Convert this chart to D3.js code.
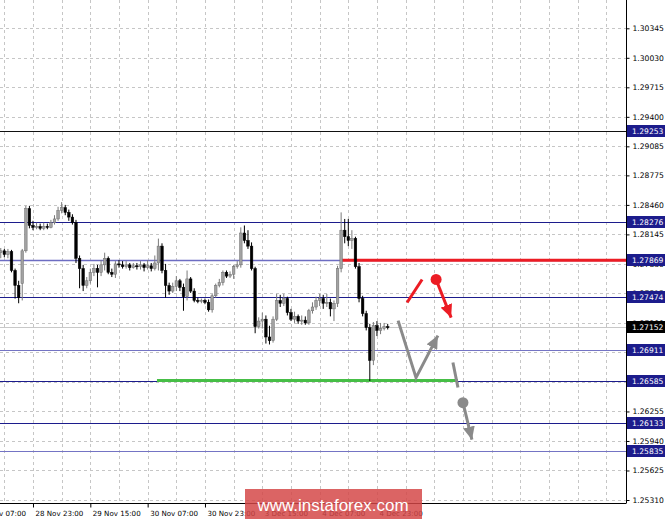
<!DOCTYPE html>
<html>
<head>
<meta charset="utf-8">
<script src="https://cdn.jsdelivr.net/npm/d3@7"></script>
<style>
  body { margin: 0; background: #fff; }
  svg { display: block; }
</style>
</head>
<body>
<div id="chart"></div>
<script>
// H1 candles, bar 0 = 28 Nov 14:00
const opens = [
  1.2795, 1.2797, 1.2793, 1.2796, 1.2776, 1.2760, 1.2762, 1.2797, 1.2842, 1.2824,
  1.2822, 1.2823, 1.2821, 1.2823, 1.2822, 1.2827, 1.2831, 1.2840, 1.2843, 1.2838,
  1.2833, 1.2827, 1.2789, 1.2778, 1.2760, 1.2765, 1.2774, 1.2778, 1.2774, 1.2782,
  1.2789, 1.2774, 1.2772, 1.2783, 1.2782, 1.2780, 1.2782, 1.2779, 1.2781, 1.2780,
  1.2782, 1.2779, 1.2781, 1.2778, 1.2784, 1.2802, 1.2776, 1.2760, 1.2754, 1.2759,
  1.2765, 1.2758, 1.2748, 1.2767, 1.2754, 1.2744, 1.2743, 1.2744, 1.2742, 1.2734,
  1.2749, 1.2760, 1.2763, 1.2774, 1.2770, 1.2772, 1.2780, 1.2782, 1.2816, 1.2808,
  1.2802, 1.2778, 1.2716, 1.2722, 1.2724, 1.2705, 1.2701, 1.2724, 1.2744, 1.2741,
  1.2746, 1.2731, 1.2724, 1.2727, 1.2722, 1.2723, 1.2720, 1.2733, 1.2737, 1.2744,
  1.2746, 1.2741, 1.2742, 1.2735, 1.2741, 1.2778, 1.2819, 1.2812, 1.2808, 1.2810,
  1.2780, 1.2746, 1.2730, 1.2715, 1.2680, 1.2717, 1.2712, 1.2714, 1.2716
];
const highs = [
  1.2800, 1.2799, 1.2799, 1.2798, 1.2778, 1.2765, 1.2799, 1.2845, 1.2845, 1.2829,
  1.2827, 1.2826, 1.2827, 1.2826, 1.2830, 1.2835, 1.2844, 1.2849, 1.2846, 1.2841,
  1.2836, 1.2830, 1.2792, 1.2782, 1.2769, 1.2778, 1.2783, 1.2782, 1.2787, 1.2795,
  1.2791, 1.2778, 1.2786, 1.2787, 1.2786, 1.2786, 1.2784, 1.2784, 1.2784, 1.2786,
  1.2784, 1.2787, 1.2784, 1.2792, 1.2810, 1.2805, 1.2783, 1.2763, 1.2763, 1.2770,
  1.2767, 1.2762, 1.2776, 1.2769, 1.2757, 1.2747, 1.2746, 1.2746, 1.2745, 1.2751,
  1.2762, 1.2767, 1.2776, 1.2776, 1.2775, 1.2782, 1.2786, 1.2822, 1.2824, 1.2819,
  1.2806, 1.2780, 1.2726, 1.2731, 1.2728, 1.2717, 1.2727, 1.2751, 1.2750, 1.2751,
  1.2748, 1.2735, 1.2732, 1.2729, 1.2728, 1.2727, 1.2735, 1.2742, 1.2748, 1.2751,
  1.2750, 1.2751, 1.2746, 1.2744, 1.2781, 1.2838, 1.2831, 1.2831, 1.2819, 1.2812,
  1.2784, 1.2749, 1.2733, 1.2719, 1.2721, 1.2722, 1.2720, 1.2720, 1.2719
];
const lows = [
  1.2789, 1.2790, 1.2789, 1.2774, 1.2746, 1.2741, 1.2744, 1.2795, 1.2821, 1.2819,
  1.2820, 1.2819, 1.2819, 1.2820, 1.2821, 1.2825, 1.2829, 1.2837, 1.2835, 1.2829,
  1.2825, 1.2784, 1.2757, 1.2754, 1.2757, 1.2762, 1.2770, 1.2758, 1.2770, 1.2776,
  1.2772, 1.2769, 1.2768, 1.2779, 1.2778, 1.2778, 1.2776, 1.2778, 1.2777, 1.2777,
  1.2775, 1.2777, 1.2775, 1.2776, 1.2776, 1.2773, 1.2747, 1.2750, 1.2752, 1.2754,
  1.2754, 1.2733, 1.2744, 1.2752, 1.2742, 1.2741, 1.2741, 1.2740, 1.2732, 1.2731,
  1.2747, 1.2758, 1.2760, 1.2768, 1.2768, 1.2767, 1.2778, 1.2779, 1.2805, 1.2799,
  1.2776, 1.2709, 1.2714, 1.2714, 1.2698, 1.2697, 1.2699, 1.2722, 1.2737, 1.2738,
  1.2728, 1.2722, 1.2720, 1.2719, 1.2718, 1.2718, 1.2718, 1.2730, 1.2734, 1.2738,
  1.2735, 1.2737, 1.2727, 1.2722, 1.2737, 1.2774, 1.2805, 1.2802, 1.2799, 1.2778,
  1.2742, 1.2727, 1.2712, 1.2658, 1.2675, 1.2706, 1.2708, 1.2712, 1.2713
];
const closes = [
  1.2797, 1.2793, 1.2796, 1.2776, 1.2760, 1.2747, 1.2797, 1.2842, 1.2824, 1.2822,
  1.2823, 1.2821, 1.2823, 1.2822, 1.2827, 1.2831, 1.2840, 1.2843, 1.2838, 1.2833,
  1.2827, 1.2789, 1.2778, 1.2760, 1.2765, 1.2774, 1.2778, 1.2774, 1.2782, 1.2789,
  1.2774, 1.2772, 1.2783, 1.2782, 1.2780, 1.2782, 1.2779, 1.2781, 1.2780, 1.2782,
  1.2779, 1.2781, 1.2778, 1.2784, 1.2802, 1.2776, 1.2760, 1.2754, 1.2759, 1.2765,
  1.2758, 1.2748, 1.2767, 1.2754, 1.2744, 1.2743, 1.2744, 1.2742, 1.2734, 1.2749,
  1.2760, 1.2763, 1.2774, 1.2770, 1.2772, 1.2780, 1.2782, 1.2816, 1.2808, 1.2802,
  1.2778, 1.2716, 1.2722, 1.2724, 1.2705, 1.2701, 1.2724, 1.2744, 1.2741, 1.2746,
  1.2731, 1.2724, 1.2727, 1.2722, 1.2723, 1.2720, 1.2733, 1.2737, 1.2744, 1.2746,
  1.2741, 1.2742, 1.2735, 1.2741, 1.2778, 1.2819, 1.2812, 1.2808, 1.2810, 1.2780,
  1.2746, 1.2730, 1.2715, 1.2680, 1.2717, 1.2712, 1.2714, 1.2716, 1.27152
];

const priceTicks = [1.30345, 1.30030, 1.29715, 1.29400, 1.29085, 1.28775, 1.28460, 1.28145,
  1.27830, 1.27515, 1.27200, 1.26885, 1.26570, 1.26255, 1.25940, 1.25625, 1.25310];
const timeLabels = ['28 Nov 07:00', '28 Nov 23:00', '29 Nov 15:00', '30 Nov 07:00',
  '30 Nov 23:00', '3 Dec 15:00', '4 Dec 07:00', '4 Dec 23:00'];
const timeLabelBars = [-7, 9, 25, 41, 57, 73, 89, 105];

const levels = [1.29253, 1.28276, 1.27869, 1.27474, 1.26911, 1.26585, 1.26133, 1.25835];
const levelColors = ['#111111', '#1c1c8c', '#6d6dc2', '#1c1c8c', '#7474c4', '#1c1c8c', '#1c1c8c', '#7474c4'];
const currentPrice = 1.27152;

// drawings, as [bar, price]
const resistance = [[94.7, 1.27869], [175, 1.27869]];
const support = [[43.6, 1.26585], [127.6, 1.26585]];
const redStroke = [[113.4, 1.27418], [117.6, 1.27664]];
const redArrow = [[121.5, 1.27664], [125.7, 1.27257]];
const grayPath = [[110.9, 1.27225], [115.9, 1.26616], [122.0, 1.27065]];
const grayStroke = [[126.2, 1.26777], [127.6, 1.26510]];
const grayArrow = [[129.0, 1.26349], [131.5, 1.25954]];

const chartWidth = 665;
const chartHeight = 521;
const plotRight = 626;
const plotBottom = 503;

const svg = d3.select('#chart')
  .append('svg')
  .attr('width', chartWidth)
  .attr('height', chartHeight)
  .style('background', '#fff');

const xScale = d3.scaleLinear()
  .domain([0, 100])
  .range([0.75, 359.05]);

const yScale = d3.scaleLinear()
  .domain([1.25310, 1.30345])
  .range([500, 28.3]);

const clip = svg.append('clipPath').attr('id', 'plot')
  .append('rect').attr('x', 0).attr('y', 0).attr('width', plotRight).attr('height', plotBottom);

const plot = svg.append('g').attr('clip-path', 'url(#plot)');

const plotGrid = () => {
  plot.selectAll('.hgrid')
    .data(priceTicks)
    .enter()
    .append('line')
    .attr('x1', 0).attr('x2', plotRight)
    .attr('y1', d => Math.round(yScale(d)) + 0.5)
    .attr('y2', d => Math.round(yScale(d)) + 0.5)
    .attr('stroke', '#c6c6c6')
    .attr('stroke-dasharray', '3,3');

  plot.selectAll('.vgrid')
    .data(d3.range(-7, 176, 8))
    .enter()
    .append('line')
    .attr('x1', d => Math.round(xScale(d)) + 0.5)
    .attr('x2', d => Math.round(xScale(d)) + 0.5)
    .attr('y1', 0).attr('y2', plotBottom)
    .attr('stroke', '#c6c6c6')
    .attr('stroke-dasharray', '3,3');

  plot.append('line')
    .attr('x1', 0).attr('x2', plotRight)
    .attr('y1', Math.round(yScale(currentPrice)) + 0.5)
    .attr('y2', Math.round(yScale(currentPrice)) + 0.5)
    .attr('stroke', '#c8c8c8');
};

const plotLevels = () => {
  plot.selectAll('.level')
    .data(levels)
    .enter()
    .append('line')
    .attr('x1', 0).attr('x2', plotRight)
    .attr('y1', d => Math.round(yScale(d)) + 0.5)
    .attr('y2', d => Math.round(yScale(d)) + 0.5)
    .attr('stroke', (d, i) => levelColors[i])
    .attr('stroke-width', (d, i) => i === 2 ? 1.6 : 1.1);

  const line = d3.line().x(d => xScale(d[0])).y(d => yScale(d[1]));
  plot.append('path').attr('d', line(support))
    .attr('stroke', '#46be46').attr('stroke-width', 3).attr('fill', 'none');
  plot.append('path').attr('d', line(resistance))
    .attr('stroke', '#ec1c24').attr('stroke-width', 3).attr('fill', 'none');
};

const plotCandles = () => {
  const bars = closes.map((c, i) => ({ i, o: opens[i], h: highs[i], l: lows[i], c }));
  const g = plot.selectAll('.bar')
    .data(bars)
    .enter()
    .append('g');

  g.append('line')
    .attr('x1', d => xScale(d.i)).attr('x2', d => xScale(d.i))
    .attr('y1', d => yScale(d.h)).attr('y2', d => yScale(d.l))
    .attr('stroke', d => d.c >= d.o ? '#7a7a7a' : '#000')
    .attr('stroke-width', 1);

  g.append('rect')
    .attr('x', d => xScale(d.i) - 1.3)
    .attr('width', 2.6)
    .attr('y', d => yScale(Math.max(d.o, d.c)))
    .attr('height', d => Math.max(1, Math.abs(yScale(d.o) - yScale(d.c))))
    .attr('fill', d => d.c >= d.o ? '#a2a2a2' : '#000')
    .attr('stroke', d => d.c >= d.o ? '#6e6e6e' : '#000')
    .attr('stroke-width', 0.5);
};

const plotDrawings = () => {
  const defs = svg.append('defs');
  [['headRed', '#ec1c24'], ['headGray', '#8a8a8a']].forEach(([id, color]) => {
    defs.append('marker')
      .attr('id', id)
      .attr('markerUnits', 'userSpaceOnUse')
      .attr('markerWidth', 14).attr('markerHeight', 12)
      .attr('refX', 13).attr('refY', 6)
      .attr('orient', 'auto')
      .append('path')
      .attr('d', 'M0,0 L13,6 L0,12 Z')
      .attr('fill', color);
  });

  const line = d3.line().x(d => xScale(d[0])).y(d => yScale(d[1]));

  plot.append('path').attr('d', line(redStroke))
    .attr('stroke', '#ec1c24').attr('stroke-width', 3).attr('fill', 'none');
  plot.append('path').attr('d', line(redArrow))
    .attr('stroke', '#ec1c24').attr('stroke-width', 3).attr('fill', 'none')
    .attr('marker-end', 'url(#headRed)');
  plot.append('circle')
    .attr('cx', xScale(redArrow[0][0])).attr('cy', yScale(redArrow[0][1]))
    .attr('r', 5.5).attr('fill', '#ec1c24');

  plot.append('path').attr('d', line(grayPath))
    .attr('stroke', '#8a8a8a').attr('stroke-width', 3).attr('fill', 'none')
    .attr('stroke-linejoin', 'miter')
    .attr('marker-end', 'url(#headGray)');
  plot.append('path').attr('d', line(grayStroke))
    .attr('stroke', '#8a8a8a').attr('stroke-width', 3).attr('fill', 'none');
  plot.append('path').attr('d', line(grayArrow))
    .attr('stroke', '#8a8a8a').attr('stroke-width', 3).attr('fill', 'none')
    .attr('marker-end', 'url(#headGray)');
  plot.append('circle')
    .attr('cx', xScale(grayArrow[0][0])).attr('cy', yScale(grayArrow[0][1]))
    .attr('r', 5.5).attr('fill', '#8a8a8a');
};

const plotAxis = () => {
  const yAxis = d3.axisRight(yScale)
    .tickValues(priceTicks)
    .tickFormat(d3.format('.5f'))
    .tickSize(3)
    .tickPadding(3);

  const gy = svg.append('g')
    .attr('transform', 'translate(' + (plotRight + 0.5) + ',0)')
    .call(yAxis);
  gy.select('.domain').attr('d', 'M0,0V' + plotBottom);
  gy.selectAll('text')
    .attr('font-family', 'Tahoma, "DejaVu Sans", sans-serif')
    .attr('font-size', '7.6px')
    .attr('fill', '#000');

  const xAxis = d3.axisBottom(xScale)
    .tickValues(timeLabelBars)
    .tickFormat((d, i) => timeLabels[i])
    .tickSize(4)
    .tickPadding(3);

  const gx = svg.append('g')
    .attr('transform', 'translate(0,' + (plotBottom + 0.5) + ')')
    .call(xAxis);
  gx.select('.domain').attr('d', 'M0,0H' + (plotRight + 0.5));
  gx.selectAll('text')
    .attr('text-anchor', 'start')
    .attr('dx', 2)
    .attr('font-family', 'Tahoma, "DejaVu Sans", sans-serif')
    .attr('font-size', '7.1px')
    .attr('fill', '#000');

  // level price tags
  const tags = levels.map((v, i) => ({ v, fill: '#1c1c8c' }))
    .concat([{ v: currentPrice, fill: '#000' }]);
  const tag = svg.selectAll('.tag')
    .data(tags)
    .enter()
    .append('g')
    .attr('transform', d => 'translate(' + (plotRight + 1) + ',' + Math.round(yScale(d.v)) + ')');
  tag.append('rect')
    .attr('x', 0).attr('y', -6)
    .attr('width', 38).attr('height', 12)
    .attr('fill', d => d.fill);
  tag.append('text')
    .attr('x', 5).attr('y', 3)
    .attr('font-family', 'Tahoma, "DejaVu Sans", sans-serif')
    .attr('font-size', '7.6px')
    .attr('fill', '#fff')
    .text(d => d.v.toFixed(5));
};

const plotWatermark = () => {
  svg.append('rect')
    .attr('x', 245).attr('y', 489)
    .attr('width', 177).attr('height', 30)
    .attr('fill', 'rgb(212,70,70)')
    .attr('fill-opacity', 0.84);
  svg.append('text')
    .attr('x', 333).attr('y', 511)
    .attr('text-anchor', 'middle')
    .attr('font-family', 'Arial, "Liberation Sans", sans-serif')
    .attr('font-size', '17px')
    .attr('fill', '#fff')
    .text('www.instaforex.com');
};

plotGrid();
plotLevels();
plotCandles();
plotDrawings();
plotAxis();
plotWatermark();
</script>
</body>
</html>
